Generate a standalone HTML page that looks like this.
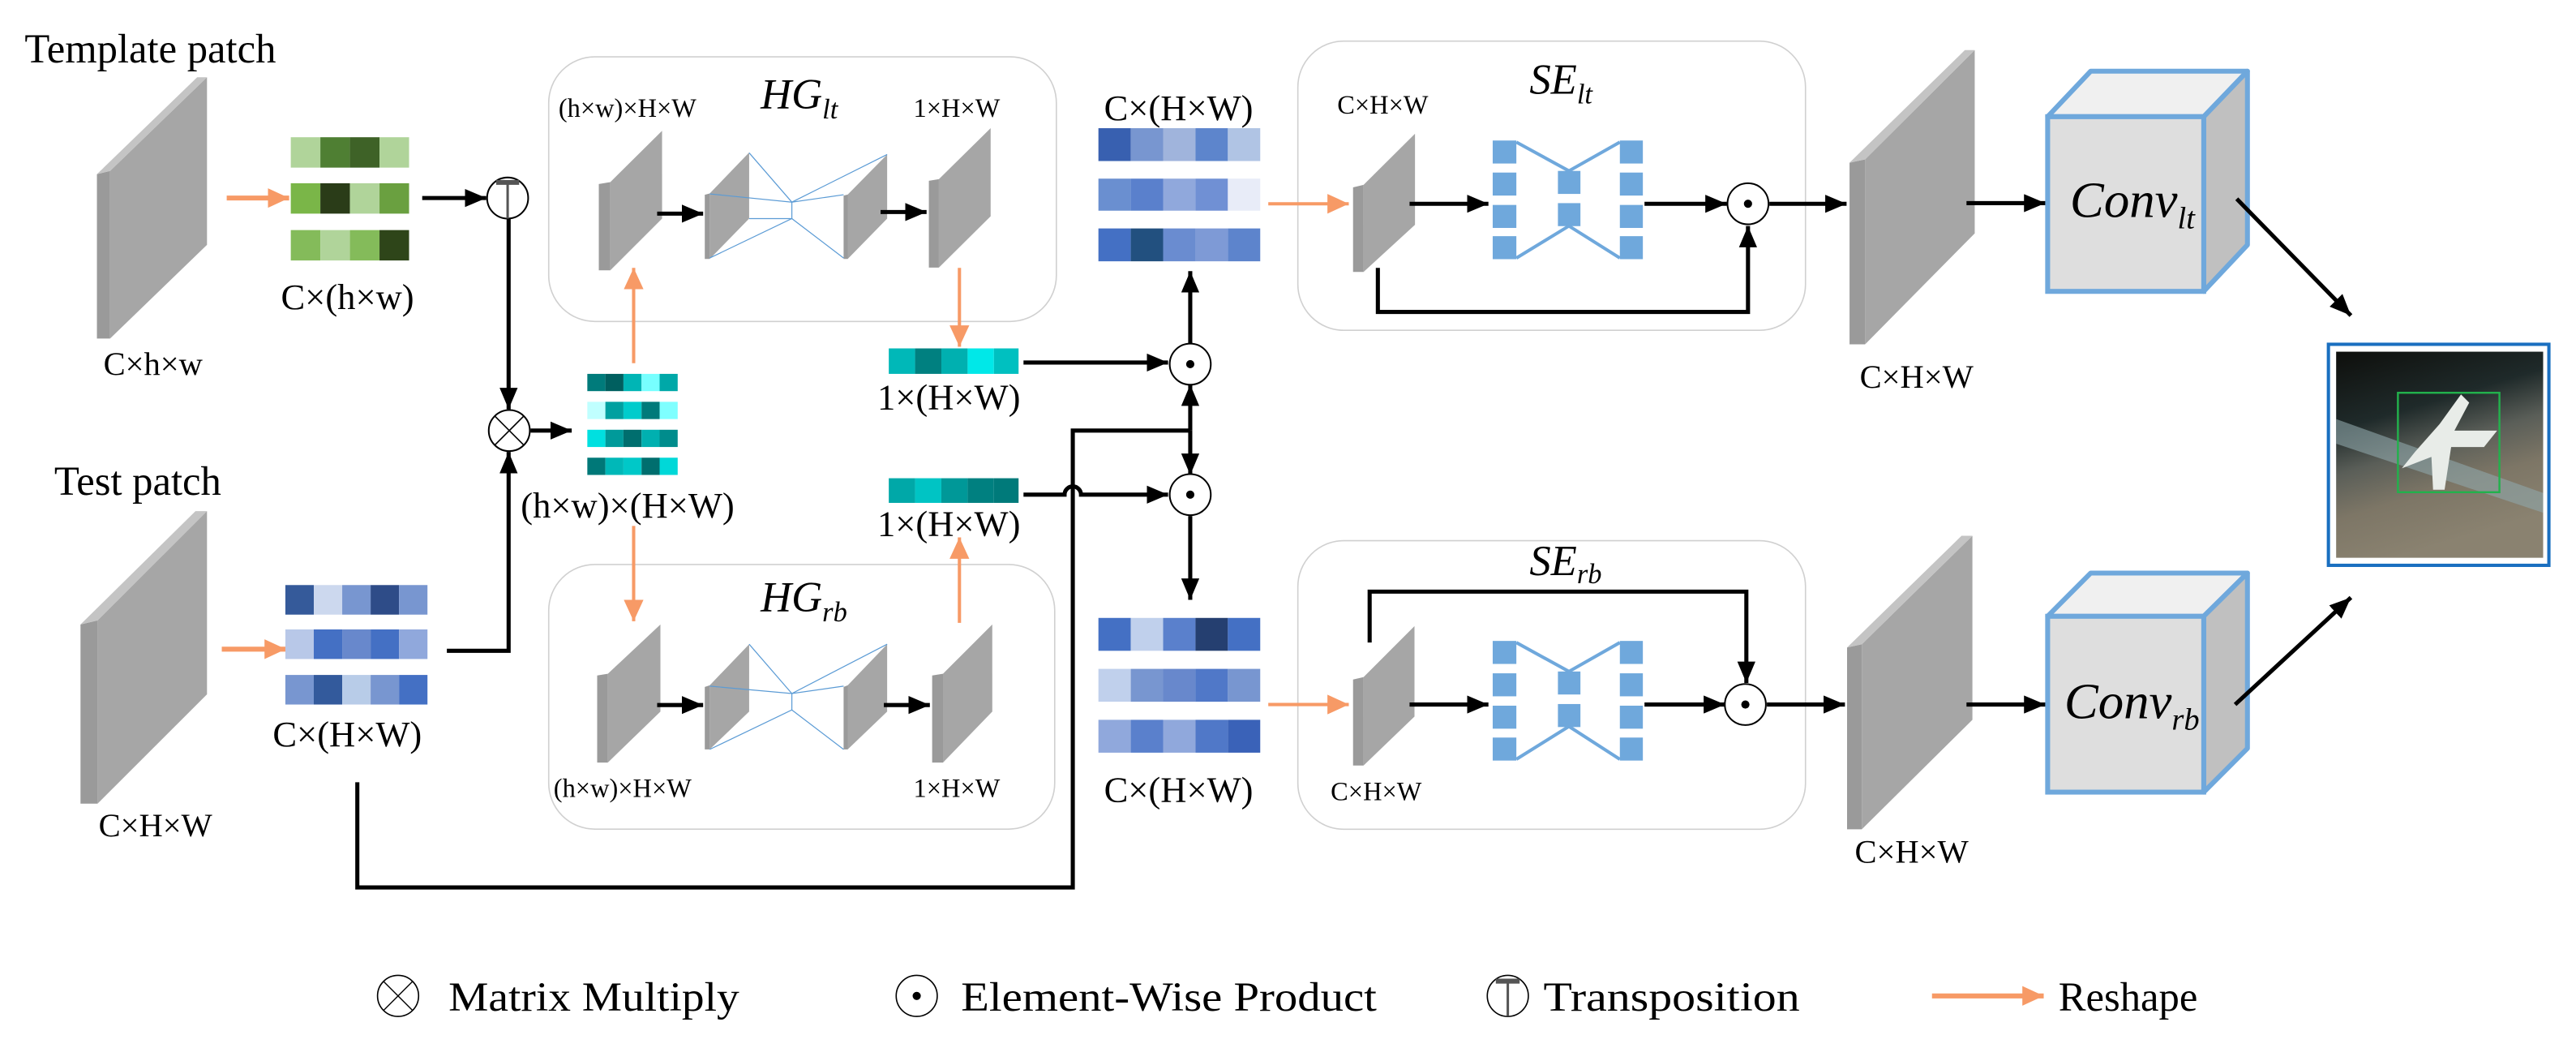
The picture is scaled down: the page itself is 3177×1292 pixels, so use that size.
<!DOCTYPE html>
<html><head><meta charset="utf-8"><style>
html,body{margin:0;padding:0;background:#fff;}
svg{display:block;}
text{font-family:"Liberation Serif",serif;fill:#000;}
</style></head><body>
<svg width="3177" height="1292" viewBox="0 0 1568 637.7" preserveAspectRatio="none" xmlns="http://www.w3.org/2000/svg">
<defs>
<marker id="ah" markerUnits="userSpaceOnUse" markerWidth="13" markerHeight="11" refX="13" refY="5.5" orient="auto"><path d="M0,0 L13,5.5 L0,11 z" fill="#000"/></marker>
<marker id="ao" markerUnits="userSpaceOnUse" markerWidth="13" markerHeight="12" refX="13" refY="6" orient="auto"><path d="M0,0 L13,6 L0,12 z" fill="#f79a66"/></marker>
<linearGradient id="bg" x1="0" y1="0" x2="0.3" y2="1"><stop offset="0" stop-color="#0e0f0c"/><stop offset="0.35" stop-color="#1f2a2a"/><stop offset="0.55" stop-color="#5a5e58"/><stop offset="0.75" stop-color="#7d7666"/><stop offset="1" stop-color="#8a8270"/></linearGradient>
</defs>

<!-- boxes first -->
<rect x="334" y="34.6" width="309" height="161" rx="28" fill="#fff" stroke="#d0d0d0" stroke-width="0.8"/>
<rect x="334" y="343.5" width="308" height="161" rx="28" fill="#fff" stroke="#d0d0d0" stroke-width="0.8"/>
<rect x="790" y="25" width="309" height="176" rx="28" fill="#fff" stroke="#d0d0d0" stroke-width="0.8"/>
<rect x="790" y="329" width="309" height="175.6" rx="28" fill="#fff" stroke="#d0d0d0" stroke-width="0.8"/>

<!-- Titles -->
<text x="15" y="38" font-size="25">Template patch</text>
<text x="33" y="301" font-size="25">Test patch</text>

<!-- Template slab -->
<polygon points="67,104 126,47 126,149 67,206" fill="#a6a6a6"/>
<polygon points="59,106 67,104 67,206 59,206" fill="#9a9a9a"/>
<polygon points="59,106 120,47 126,47 67,104" fill="#c4c4c4"/>
<text x="63" y="228" font-size="20">C×h×w</text>
<line x1="138" y1="120.5" x2="176" y2="120.5" stroke="#f79a66" stroke-width="3" marker-end="url(#ao)"/>
<g>
<rect x="177" y="83.5" width="18" height="18.5" fill="#b0d49a"/><rect x="195" y="83.5" width="18" height="18.5" fill="#4f7f33"/><rect x="213" y="83.5" width="18" height="18.5" fill="#3e6227"/><rect x="231" y="83.5" width="18" height="18.5" fill="#b0d49a"/>
<rect x="177" y="111.5" width="18" height="18.5" fill="#7ab648"/><rect x="195" y="111.5" width="18" height="18.5" fill="#2a3c18"/><rect x="213" y="111.5" width="18" height="18.5" fill="#b0d49a"/><rect x="231" y="111.5" width="18" height="18.5" fill="#6aa040"/>
<rect x="177" y="140" width="18" height="18.5" fill="#84bb5a"/><rect x="195" y="140" width="18" height="18.5" fill="#b0d49a"/><rect x="213" y="140" width="18" height="18.5" fill="#84bb5a"/><rect x="231" y="140" width="18" height="18.5" fill="#2e4519"/>
</g>
<text x="171" y="188" font-size="22">C×(h×w)</text>
<line x1="257" y1="120.5" x2="296" y2="120.5" stroke="#000" stroke-width="2.5" marker-end="url(#ah)"/>
<circle cx="309" cy="120.5" r="12.5" fill="#fff" stroke="#000" stroke-width="1"/>
<line x1="302" y1="111" x2="316" y2="111" stroke="#555" stroke-width="3"/>
<line x1="309" y1="111" x2="309" y2="133" stroke="#555" stroke-width="1.5"/>
<line x1="309.6" y1="133" x2="309.6" y2="249" stroke="#000" stroke-width="2.5" marker-end="url(#ah)"/>
<circle cx="310" cy="262" r="12.5" fill="#fff" stroke="#000" stroke-width="1"/>
<line x1="301" y1="253" x2="319" y2="271" stroke="#000" stroke-width="0.8"/><line x1="319" y1="253" x2="301" y2="271" stroke="#000" stroke-width="0.8"/>
<line x1="323" y1="262" x2="348" y2="262" stroke="#000" stroke-width="2.5" marker-end="url(#ah)"/>
<polyline points="272,396 309.6,396 309.6,275" fill="none" stroke="#000" stroke-width="2.5" marker-end="url(#ah)"/>

<!-- cyan matrix -->
<g>
<rect x="357.5" y="227.5" width="11" height="10.5" fill="#007b7b"/><rect x="368.5" y="227.5" width="11" height="10.5" fill="#005f5f"/><rect x="379.5" y="227.5" width="11" height="10.5" fill="#00b5b5"/><rect x="390.5" y="227.5" width="11" height="10.5" fill="#77ffff"/><rect x="401.5" y="227.5" width="11" height="10.5" fill="#00a8a8"/>
<rect x="357.5" y="244.5" width="11" height="10.5" fill="#c0ffff"/><rect x="368.5" y="244.5" width="11" height="10.5" fill="#00a0a0"/><rect x="379.5" y="244.5" width="11" height="10.5" fill="#00cccc"/><rect x="390.5" y="244.5" width="11" height="10.5" fill="#007a7a"/><rect x="401.5" y="244.5" width="11" height="10.5" fill="#7fffff"/>
<rect x="357.5" y="261.5" width="11" height="10.5" fill="#00e0e0"/><rect x="368.5" y="261.5" width="11" height="10.5" fill="#009a9a"/><rect x="379.5" y="261.5" width="11" height="10.5" fill="#006e6e"/><rect x="390.5" y="261.5" width="11" height="10.5" fill="#00b0b0"/><rect x="401.5" y="261.5" width="11" height="10.5" fill="#008c8c"/>
<rect x="357.5" y="278.5" width="11" height="10.5" fill="#007878"/><rect x="368.5" y="278.5" width="11" height="10.5" fill="#00b8b8"/><rect x="379.5" y="278.5" width="11" height="10.5" fill="#00c8c8"/><rect x="390.5" y="278.5" width="11" height="10.5" fill="#006e6e"/><rect x="401.5" y="278.5" width="11" height="10.5" fill="#00d8d8"/>
</g>
<text x="317" y="315" font-size="22">(h×w)×(H×W)</text>
<line x1="385.7" y1="221" x2="385.7" y2="163" stroke="#f79a66" stroke-width="2" marker-end="url(#ao)"/>
<line x1="385.7" y1="320" x2="385.7" y2="378" stroke="#f79a66" stroke-width="2" marker-end="url(#ao)"/>

<!-- HG_lt -->
<text x="463" y="66" font-size="26" font-style="italic">HG<tspan font-size="17" dy="6">lt</tspan></text>
<text x="340" y="71" font-size="16">(h×w)×H×W</text>
<text x="556" y="71" font-size="16">1×H×W</text>
<polygon points="371.5,110.8 403,79.6 403,133 371.5,164.5" fill="#a6a6a6"/><polygon points="364.5,112 371.5,110.8 371.5,164.5 364.5,164.5" fill="#9a9a9a"/>
<line x1="400" y1="130" x2="428" y2="130" stroke="#000" stroke-width="2.5" marker-end="url(#ah)"/>
<polygon points="432,117.7 456,92.8 456,133 432,157.6" fill="#a6a6a6"/><polygon points="429,118.5 432,117.7 432,157.6 429,157.6" fill="#9a9a9a"/>
<polygon points="516,118.4 540,94 540,133 516,157.6" fill="#a6a6a6"/><polygon points="513.5,119 516,118.4 516,157.6 513.5,157.6" fill="#9a9a9a"/>
<g stroke="#5b9bd5" stroke-width="0.6" fill="none">
<polyline points="432,118 482,123 540,94"/><polyline points="456,93 482,123 513.5,118.5"/>
<polyline points="432,157 482,133 513.5,157"/><polyline points="456,133 482,133"/><line x1="482" y1="123" x2="482" y2="133"/>
</g>
<line x1="536" y1="129" x2="564" y2="129" stroke="#000" stroke-width="2.5" marker-end="url(#ah)"/>
<polygon points="571.5,109 603,78 603,131.6 571.5,162.8" fill="#a6a6a6"/><polygon points="565.4,110 571.5,109 571.5,162.8 565.4,162.8" fill="#9a9a9a"/>
<line x1="584" y1="163" x2="584" y2="211" stroke="#f79a66" stroke-width="2" marker-end="url(#ao)"/>

<rect x="541" y="212" width="16" height="15.5" fill="#00b8b8"/><rect x="557" y="212" width="16" height="15.5" fill="#008080"/><rect x="573" y="212" width="16" height="15.5" fill="#00b0b0"/><rect x="589" y="212" width="16" height="15.5" fill="#00e8e8"/><rect x="605" y="212" width="15" height="15.5" fill="#00c0c0"/>
<text x="534" y="249" font-size="22">1×(H×W)</text>
<rect x="541" y="291" width="16" height="15" fill="#00a8a8"/><rect x="557" y="291" width="16" height="15" fill="#00c4c4"/><rect x="573" y="291" width="16" height="15" fill="#009898"/><rect x="589" y="291" width="16" height="15" fill="#008080"/><rect x="605" y="291" width="15" height="15" fill="#007a7a"/>
<text x="534" y="326" font-size="22">1×(H×W)</text>

<polyline points="217.5,476 217.5,540 653,540 653,262 724.5,262" fill="none" stroke="#000" stroke-width="2.5"/>
<line x1="724.5" y1="262" x2="724.5" y2="234" stroke="#000" stroke-width="2.5" marker-end="url(#ah)"/>
<line x1="724.5" y1="262" x2="724.5" y2="289" stroke="#000" stroke-width="2.5" marker-end="url(#ah)"/>
<line x1="623" y1="220.6" x2="711" y2="220.6" stroke="#000" stroke-width="2.5" marker-end="url(#ah)"/>
<path d="M623,301 L648,301 A5,5 0 0 1 658,301 L711,301" fill="none" stroke="#000" stroke-width="2.5" marker-end="url(#ah)"/>
<circle cx="724.5" cy="221.6" r="12.5" fill="#fff" stroke="#000" stroke-width="1"/><circle cx="724.5" cy="221.6" r="2.5" fill="#000"/>
<circle cx="724.5" cy="301" r="12.5" fill="#fff" stroke="#000" stroke-width="1"/><circle cx="724.5" cy="301" r="2.5" fill="#000"/>
<line x1="724.5" y1="209" x2="724.5" y2="165" stroke="#000" stroke-width="2.5" marker-end="url(#ah)"/>
<line x1="724.5" y1="314" x2="724.5" y2="365" stroke="#000" stroke-width="2.5" marker-end="url(#ah)"/>

<text x="672" y="73" font-size="22">C×(H×W)</text>
<g>
<rect x="668.6" y="78" width="19.7" height="20" fill="#3860b0"/><rect x="688.3" y="78" width="19.7" height="20" fill="#7896d0"/><rect x="708" y="78" width="19.7" height="20" fill="#a0b4dc"/><rect x="727.7" y="78" width="19.7" height="20" fill="#5d85cc"/><rect x="747.4" y="78" width="19.7" height="20" fill="#b0c4e4"/>
<rect x="668.6" y="108.7" width="19.7" height="19.5" fill="#6a8fd0"/><rect x="688.3" y="108.7" width="19.7" height="19.5" fill="#5a80cc"/><rect x="708" y="108.7" width="19.7" height="19.5" fill="#90a8dc"/><rect x="727.7" y="108.7" width="19.7" height="19.5" fill="#7090d4"/><rect x="747.4" y="108.7" width="19.7" height="19.5" fill="#e8ecf8"/>
<rect x="668.6" y="139" width="19.7" height="20" fill="#4470c4"/><rect x="688.3" y="139" width="19.7" height="20" fill="#22507f"/><rect x="708" y="139" width="19.7" height="20" fill="#6a8cd0"/><rect x="727.7" y="139" width="19.7" height="20" fill="#7e9ad6"/><rect x="747.4" y="139" width="19.7" height="20" fill="#5d84cc"/>
</g>
<g>
<rect x="668.6" y="376" width="19.7" height="20" fill="#4470c4"/><rect x="688.3" y="376" width="19.7" height="20" fill="#c0d0ec"/><rect x="708" y="376" width="19.7" height="20" fill="#5a80cc"/><rect x="727.7" y="376" width="19.7" height="20" fill="#253f70"/><rect x="747.4" y="376" width="19.7" height="20" fill="#4470c4"/>
<rect x="668.6" y="407" width="19.7" height="20" fill="#c0d0ec"/><rect x="688.3" y="407" width="19.7" height="20" fill="#7896d0"/><rect x="708" y="407" width="19.7" height="20" fill="#6888cc"/><rect x="727.7" y="407" width="19.7" height="20" fill="#5078c8"/><rect x="747.4" y="407" width="19.7" height="20" fill="#7896d0"/>
<rect x="668.6" y="438" width="19.7" height="20" fill="#90a8dc"/><rect x="688.3" y="438" width="19.7" height="20" fill="#5a80cc"/><rect x="708" y="438" width="19.7" height="20" fill="#90a8dc"/><rect x="727.7" y="438" width="19.7" height="20" fill="#5078c8"/><rect x="747.4" y="438" width="19.7" height="20" fill="#3a62b8"/>
</g>
<text x="672" y="488" font-size="22">C×(H×W)</text>

<!-- HG_rb -->
<text x="463" y="372" font-size="26" font-style="italic">HG<tspan font-size="17" dy="6">rb</tspan></text>
<polygon points="370,410 402,380 402,433 370,464" fill="#a6a6a6"/><polygon points="363.5,411 370,410 370,464 363.5,464" fill="#9a9a9a"/>
<line x1="400" y1="429" x2="428" y2="429" stroke="#000" stroke-width="2.5" marker-end="url(#ah)"/>
<polygon points="432,417 456,392 456,433 432,456" fill="#a6a6a6"/><polygon points="429,418 432,417 432,456 429,456" fill="#9a9a9a"/>
<polygon points="516,417 540,392 540,433 516,456" fill="#a6a6a6"/><polygon points="513.5,418 516,417 516,456 513.5,456" fill="#9a9a9a"/>
<g stroke="#5b9bd5" stroke-width="0.6" fill="none">
<polyline points="432,417.5 482,422 540,392"/><polyline points="456,392 482,422 513.5,417.5"/>
<polyline points="432,456 482,432 513.5,456"/><line x1="482" y1="422" x2="482" y2="432"/>
</g>
<line x1="538" y1="429" x2="566" y2="429" stroke="#000" stroke-width="2.5" marker-end="url(#ah)"/>
<polygon points="574,410 604,380 604,433 574,464" fill="#a6a6a6"/><polygon points="567.4,411 574,410 574,464 567.4,464" fill="#9a9a9a"/>
<line x1="584" y1="379" x2="584" y2="327" stroke="#f79a66" stroke-width="2" marker-end="url(#ao)"/>
<text x="337" y="485" font-size="16">(h×w)×H×W</text>
<text x="556" y="485" font-size="16">1×H×W</text>

<!-- Test slab -->
<polygon points="59.4,377.5 126,311 126,422.5 59.4,489" fill="#a6a6a6"/>
<polygon points="49,380 59.4,377.5 59.4,489 49,489" fill="#9a9a9a"/>
<polygon points="49,380 119,311 126,311 59.4,377.5" fill="#c4c4c4"/>
<text x="60" y="509" font-size="20">C×H×W</text>
<line x1="135" y1="395" x2="174" y2="395" stroke="#f79a66" stroke-width="3" marker-end="url(#ao)"/>
<g>
<rect x="173.7" y="356" width="17.3" height="18" fill="#355a9a"/><rect x="191" y="356" width="17.3" height="18" fill="#ccd8ee"/><rect x="208.3" y="356" width="17.3" height="18" fill="#7896d0"/><rect x="225.6" y="356" width="17.3" height="18" fill="#2e4c88"/><rect x="242.9" y="356" width="17.3" height="18" fill="#7896d0"/>
<rect x="173.7" y="383" width="17.3" height="18" fill="#b8c8e8"/><rect x="191" y="383" width="17.3" height="18" fill="#4470c4"/><rect x="208.3" y="383" width="17.3" height="18" fill="#6888cc"/><rect x="225.6" y="383" width="17.3" height="18" fill="#4470c4"/><rect x="242.9" y="383" width="17.3" height="18" fill="#90a8dc"/>
<rect x="173.7" y="410.7" width="17.3" height="18" fill="#7896d0"/><rect x="191" y="410.7" width="17.3" height="18" fill="#335a9c"/><rect x="208.3" y="410.7" width="17.3" height="18" fill="#b8cce8"/><rect x="225.6" y="410.7" width="17.3" height="18" fill="#7896d0"/><rect x="242.9" y="410.7" width="17.3" height="18" fill="#4470c4"/>
</g>
<text x="166" y="454" font-size="22">C×(H×W)</text>

<!-- SE_lt -->
<text x="931" y="57" font-size="26" font-style="italic">SE<tspan font-size="17" dy="6">lt</tspan></text>
<text x="814" y="69" font-size="16">C×H×W</text>
<line x1="772" y1="124" x2="821" y2="124" stroke="#f79a66" stroke-width="2" marker-end="url(#ao)"/>
<polygon points="830,112.5 861.3,81.4 861.3,136.8 830,165.5" fill="#a6a6a6"/><polygon points="823.6,114 830,112.5 830,165.5 823.6,165.5" fill="#9a9a9a"/>
<line x1="858" y1="124" x2="906" y2="124" stroke="#000" stroke-width="2.5" marker-end="url(#ah)"/>
<g fill="#6fa8dc">
<rect x="908.6" y="85.5" width="14.4" height="14"/><rect x="908.6" y="105" width="14.4" height="14"/><rect x="908.6" y="124.7" width="14.4" height="14"/><rect x="908.6" y="143.7" width="14.4" height="14"/>
<rect x="948.3" y="104" width="13.7" height="14"/><rect x="948.3" y="123.6" width="13.7" height="14"/>
<rect x="986" y="85.5" width="14" height="14"/><rect x="986" y="105" width="14" height="14"/><rect x="986" y="124.7" width="14" height="14"/><rect x="986" y="143.7" width="14" height="14"/>
</g>
<polyline points="923,86.5 955,104 986,86.5" fill="none" stroke="#6fa8dc" stroke-width="2"/>
<polyline points="923,157 955,137.5 986,157" fill="none" stroke="#6fa8dc" stroke-width="2"/>
<line x1="1001" y1="124" x2="1051" y2="124" stroke="#000" stroke-width="2.5" marker-end="url(#ah)"/>
<polyline points="838.7,163 838.7,189.8 1064,189.8 1064,137.5" fill="none" stroke="#000" stroke-width="2.5" marker-end="url(#ah)"/>
<circle cx="1064" cy="124" r="12.5" fill="#fff" stroke="#000" stroke-width="1"/><circle cx="1064" cy="124" r="2.5" fill="#000"/>
<line x1="1077" y1="124" x2="1124" y2="124" stroke="#000" stroke-width="2.5" marker-end="url(#ah)"/>
<polygon points="1135.3,97 1202,30.5 1202,142 1135.3,209.5" fill="#a6a6a6"/><polygon points="1125.8,99 1135.3,97 1135.3,209.5 1125.8,209.5" fill="#9a9a9a"/>
<polygon points="1125.8,99 1196,30.5 1202,30.5 1135.3,97" fill="#c4c4c4"/>
<text x="1132" y="236" font-size="20">C×H×W</text>
<line x1="1197" y1="123.6" x2="1245" y2="123.6" stroke="#000" stroke-width="2.5" marker-end="url(#ah)"/>
<polygon points="1246.4,71 1272.6,43.3 1368,43.3 1341.4,71" fill="#f0f0f0" stroke="#6fa8dc" stroke-width="3" stroke-linejoin="round"/>
<polygon points="1341.4,71 1368,43.3 1368,149 1341.4,177.3" fill="#c0c0c0" stroke="#6fa8dc" stroke-width="3" stroke-linejoin="round"/>
<rect x="1246.4" y="71" width="95" height="106.3" fill="#dedede" stroke="#6fa8dc" stroke-width="3"/>
<text x="1260" y="132" font-size="31" font-style="italic">Conv<tspan font-size="19" dy="7">lt</tspan></text>
<line x1="1361.5" y1="121" x2="1431" y2="192" stroke="#000" stroke-width="2.5" marker-end="url(#ah)"/>

<!-- image -->
<rect x="1417.3" y="209.5" width="134.2" height="134.5" fill="#fff" stroke="#1a6fc0" stroke-width="2"/>
<rect x="1422" y="214" width="126" height="125.4" fill="url(#bg)"/>
<polygon points="1422,255 1548,300 1548,312 1422,270" fill="#8fa6aa" opacity="0.6"/>
<polygon points="1470,275 1485,258 1498,240 1503,245 1494,262 1520,262 1512,272 1492,272 1488,298 1481,298 1480,278 1462,285" fill="#e8ece8"/>
<rect x="1459.6" y="239" width="61.8" height="60.5" fill="none" stroke="#22b14c" stroke-width="1.2"/>

<!-- SE_rb -->
<text x="931" y="350" font-size="26" font-style="italic">SE<tspan font-size="17" dy="5">rb</tspan></text>
<text x="810" y="487" font-size="16">C×H×W</text>
<line x1="772" y1="428.7" x2="821" y2="428.7" stroke="#f79a66" stroke-width="2" marker-end="url(#ao)"/>
<polygon points="830,412 861,381 861,436 830,465.8" fill="#a6a6a6"/><polygon points="823.6,413.5 830,412 830,465.8 823.6,465.8" fill="#9a9a9a"/>
<polyline points="833.7,391 833.7,360 1063,360 1063,415.6" fill="none" stroke="#000" stroke-width="2.5" marker-end="url(#ah)"/>
<line x1="858" y1="428.7" x2="906" y2="428.7" stroke="#000" stroke-width="2.5" marker-end="url(#ah)"/>
<g fill="#6fa8dc">
<rect x="908.6" y="390" width="14.4" height="14"/><rect x="908.6" y="409.7" width="14.4" height="14"/><rect x="908.6" y="429.4" width="14.4" height="14"/><rect x="908.6" y="448.8" width="14.4" height="14"/>
<rect x="948.3" y="408.6" width="13.7" height="14"/><rect x="948.3" y="428.4" width="13.7" height="14"/>
<rect x="986" y="390" width="14" height="14"/><rect x="986" y="409.7" width="14" height="14"/><rect x="986" y="429.4" width="14" height="14"/><rect x="986" y="448.8" width="14" height="14"/>
</g>
<polyline points="923,391 955,408.6 986,391" fill="none" stroke="#6fa8dc" stroke-width="2"/>
<polyline points="923,462 955,442 986,462" fill="none" stroke="#6fa8dc" stroke-width="2"/>
<line x1="1001" y1="428.7" x2="1050" y2="428.7" stroke="#000" stroke-width="2.5" marker-end="url(#ah)"/>
<circle cx="1062.4" cy="428.7" r="12.5" fill="#fff" stroke="#000" stroke-width="1"/><circle cx="1062.4" cy="428.7" r="2.5" fill="#000"/>
<line x1="1075.5" y1="428.7" x2="1123" y2="428.7" stroke="#000" stroke-width="2.5" marker-end="url(#ah)"/>
<polygon points="1133.3,392 1200.6,326 1200.6,438 1133.3,504.6" fill="#a6a6a6"/><polygon points="1124.3,394 1133.3,392 1133.3,504.6 1124.3,504.6" fill="#9a9a9a"/>
<polygon points="1124.3,394 1194,326 1200.6,326 1133.3,392" fill="#c4c4c4"/>
<text x="1129" y="525" font-size="20">C×H×W</text>
<line x1="1197" y1="428.7" x2="1245" y2="428.7" stroke="#000" stroke-width="2.5" marker-end="url(#ah)"/>
<polygon points="1246.4,375 1272.6,348.7 1368,348.7 1341.4,375" fill="#f0f0f0" stroke="#6fa8dc" stroke-width="3" stroke-linejoin="round"/>
<polygon points="1341.4,375 1368,348.7 1368,455.4 1341.4,482" fill="#c0c0c0" stroke="#6fa8dc" stroke-width="3" stroke-linejoin="round"/>
<rect x="1246.4" y="375" width="95" height="107" fill="#dedede" stroke="#6fa8dc" stroke-width="3"/>
<text x="1256.5" y="437" font-size="31" font-style="italic">Conv<tspan font-size="19" dy="7">rb</tspan></text>
<line x1="1360.5" y1="428.7" x2="1431" y2="363.6" stroke="#000" stroke-width="2.5" marker-end="url(#ah)"/>

<!-- Legend -->
<circle cx="242.3" cy="606" r="12.5" fill="#fff" stroke="#000" stroke-width="0.8"/>
<line x1="233.5" y1="597.2" x2="251.1" y2="614.8" stroke="#000" stroke-width="0.7"/><line x1="251.1" y1="597.2" x2="233.5" y2="614.8" stroke="#000" stroke-width="0.7"/>
<text x="273" y="615" font-size="25" textLength="177" lengthAdjust="spacingAndGlyphs">Matrix Multiply</text>
<circle cx="558" cy="606" r="12.5" fill="#fff" stroke="#000" stroke-width="0.8"/><circle cx="558" cy="606" r="2.5" fill="#000"/>
<text x="585" y="615" font-size="25" textLength="253" lengthAdjust="spacingAndGlyphs">Element-Wise Product</text>
<circle cx="917.8" cy="606" r="12.5" fill="#fff" stroke="#000" stroke-width="0.8"/>
<line x1="910.5" y1="597" x2="925" y2="597" stroke="#555" stroke-width="3"/><line x1="917.8" y1="597" x2="917.8" y2="618" stroke="#555" stroke-width="1.5"/>
<text x="939.5" y="615" font-size="25" textLength="156" lengthAdjust="spacingAndGlyphs">Transposition</text>
<line x1="1176" y1="606" x2="1244" y2="606" stroke="#f79a66" stroke-width="3" marker-end="url(#ao)"/>
<text x="1253" y="615" font-size="25">Reshape</text>
</svg>
</body></html>
